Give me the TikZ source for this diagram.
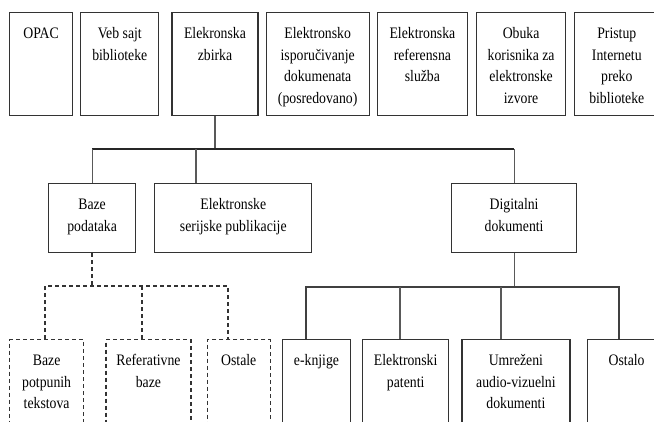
\documentclass[tikz,border=0pt]{standalone}
\usepackage{fontspec}
\setmainfont[FakeStretch=0.86]{Liberation Serif}
\usetikzlibrary{positioning}

\tikzset{
  box/.style 2 args={draw=black!80, line width=1.2pt, inner sep=0pt,
    font=\fontsize{16pt}{21.5pt}\selectfont,
    execute at begin node={\begin{minipage}[t][#2][t]{#1}\centering\rule{0pt}{26pt}\ignorespaces},
    execute at end node={\end{minipage}}},
  dbox/.style 2 args={box={#1}{#2}, line width=1.3pt, dash pattern=on 4pt off 3pt},
  bus/.style={draw=black!85, line width=1.8pt},
  conn/.style={draw=black!65, line width=1.1pt},
  dconn/.style={draw=black!80, line width=1.3pt, dash pattern=on 4pt off 3pt}
}

\begin{document}
\begin{tikzpicture}[x=1pt,y=-1pt]
   \useasboundingbox (0,0) rectangle (654,421);
   \clip (0,0) rectangle (654,421);
   % top row
   \node[box={63pt}{103pt},anchor=north west] (opac) at (9,12) {OPAC};
   \node[box={78pt}{103pt}] (veb) [right=7pt of opac] {Veb sajt\\biblioteke};
   \node[box={86pt}{103pt}] (zbirka) [right=12pt of veb] {Elekronska\\zbirka};
   \node[box={103pt}{103pt}] (isporuka) [right=7pt of zbirka] {Elektronsko\\isporučivanje\\dokumenata\\(posredovano)};
   \node[box={90pt}{103pt}] (referensna) [right=7pt of isporuka] {Elektronska\\referensna\\služba};
   \node[box={89pt}{103pt}] (obuka) [right=8pt of referensna] {Obuka\\korisnika za\\elektronske\\izvore};
   \node[box={84pt}{103pt}] (pristup) [right=8pt of obuka] {Pristup\\Internetu\\preko\\biblioteke};
   % middle row
   \node[box={87pt}{69pt},anchor=north west] (baze) at (48,183) {Baze\\podataka};
   \node[box={157pt}{69pt}] (serijske) [right=18pt of baze] {Elektronske\\serijske publikacije};
   \node[box={125pt}{69pt},anchor=north west] (digitalni) at (451,183) {Digitalni\\dokumenti};
   % bottom row
   \node[dbox={74pt}{100pt},anchor=north west] (potpunih) at (9,339) {Baze\\potpunih\\tekstova};
   \node[dbox={85pt}{100pt}] (referativne) [right=21pt of potpunih] {Referativne\\baze};
   \node[dbox={63pt}{100pt}] (ostale) [right=15pt of referativne] {Ostale};
   \node[box={68pt}{100pt}] (eknjige) [right=11pt of ostale] {e-knjige};
   \node[box={86pt}{100pt}] (patenti) [right=11pt of eknjige] {Elektronski\\patenti};
   \node[box={108pt}{100pt}] (umrezeni) [right=12pt of patenti] {Umreženi\\audio-vizuelni\\dokumenti};
   \node[box={79pt}{100pt}] (ostalo) [right=16pt of umrezeni] {Ostalo};

   % connectors
   \coordinate (busA) at (0,149);
   \coordinate (busB) at (0,286);
   \coordinate (busC) at (0,287);
   \draw[conn] (zbirka.south) -- (zbirka.south |- busA);
   \draw[bus] (baze.north |- busA) -- (digitalni.north |- busA);
   \coordinate (sj) at (196,149);
   \foreach \n/\c in {baze/baze.north,serijske/sj,digitalni/digitalni.north}
      \draw[conn] (\c |- busA) -- (\c |- \n.north);

   \coordinate (d1) at (45,286);
   \coordinate (d2) at (142,286);
   \coordinate (d3) at (228,286);
   \draw[dconn] (baze.south) -- (baze.south |- busB);
   \draw[dconn] (d1 |- potpunih.north) -- (d1) -- (d3) -- (d3 |- ostale.north);
   \draw[dconn] (d2) -- (d2 |- referativne.north);

   \coordinate (e1) at (306,287);
   \coordinate (e2) at (400,287);
   \coordinate (e3) at (501,287);
   \coordinate (e4) at (619,287);
   \draw[conn] (digitalni.south) -- (digitalni.south |- busC);
   \draw[conn,draw=black!75] (e1 |- eknjige.north) -- (e1) -- (e4) -- (e4 |- ostalo.north);
   \draw[conn] (e2) -- (e2 |- patenti.north);
   \draw[conn] (e3) -- (e3 |- umrezeni.north);
\end{tikzpicture}
\end{document}
